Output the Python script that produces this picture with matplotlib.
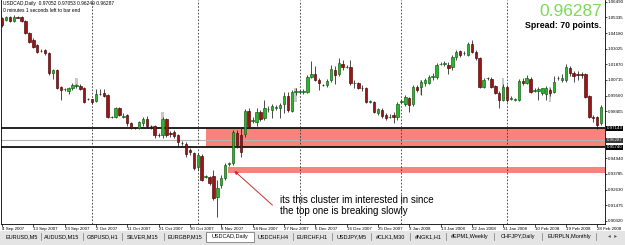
import matplotlib.pyplot as plt
from matplotlib.patches import Rectangle

# USDCAD daily bars (Sun-Fri sessions), 4 Sep 2007 .. 29 Feb 2008, bar index = position
opens = [1.0527, 1.0514, 1.0534, 1.0509, 1.0536, 1.0538, 1.0507, 1.0418, 1.0367, 1.0330,
         1.0285, 1.0293, 1.0268, 1.0123, 1.0145, 1.0018, 1.0003, 0.9993, 1.0010, 1.0027,
         1.0027, 1.0010, 0.9931, 0.9929, 0.9919, 0.9968, 0.9973, 0.9961, 0.9801, 0.9801,
         0.9863, 0.9801, 0.9813, 0.9757, 0.9718, 0.9715, 0.9752, 0.9784, 0.9732, 0.9735,
         0.9666, 0.9666, 0.9784, 0.9677, 0.9688, 0.9666, 0.9609, 0.9600, 0.9555, 0.9533,
         0.9430, 0.9511, 0.9356, 0.9356, 0.9364, 0.9209, 0.9297, 0.9349, 0.9452, 0.9459,
         0.9681, 0.9666, 0.9673, 0.9843, 0.9769, 0.9762, 0.9836, 0.9791, 0.9854, 0.9850,
         0.9865, 0.9865, 0.9895, 0.9954, 0.9843, 0.9983, 0.9983, 0.9983, 0.9983, 1.0094,
         1.0119, 1.0072, 1.0035, 1.0035, 1.0072, 1.0145, 1.0116, 1.0193, 1.0167, 1.0167,
         1.0046, 1.0046, 1.0013, 1.0009, 0.9911, 0.9909, 0.9828, 0.9850, 0.9813, 0.9799,
         0.9810, 0.9802, 0.9911, 0.9895, 0.9939, 0.9895, 1.0020, 1.0020, 1.0049, 1.0053,
         1.0094, 1.0094, 1.0190, 1.0193, 1.0182, 1.0167, 1.0241, 1.0285, 1.0267, 1.0256,
         1.0337, 1.0278, 1.0234, 1.0022, 1.0083, 1.0079, 1.0024, 0.9978, 0.9924, 1.0020,
         0.9935, 0.9924, 0.9924, 1.0064, 1.0053, 1.0079, 0.9994, 0.9987, 0.9976, 0.9968,
         0.9998, 0.9985, 1.0083, 1.0072, 1.0072, 1.0158, 1.0125, 1.0116, 1.0116, 1.0116,
         0.9954, 0.9799, 0.9799, 0.9755]
highs = [1.0538, 1.0544, 1.0544, 1.0551, 1.0544, 1.0547, 1.0514, 1.0426, 1.0381, 1.0337,
         1.0300, 1.0300, 1.0278, 1.0153, 1.0153, 1.0027, 1.0013, 1.0020, 1.0049, 1.0042,
         1.0042, 1.0020, 0.9939, 0.9931, 1.0005, 1.0005, 1.0005, 0.9968, 0.9806, 0.9872,
         0.9872, 0.9828, 0.9821, 0.9762, 0.9725, 0.9769, 0.9799, 0.9806, 0.9740, 0.9740,
         0.9681, 0.9799, 0.9791, 0.9695, 0.9703, 0.9673, 0.9622, 0.9614, 0.9570, 0.9541,
         0.9533, 0.9526, 0.9371, 0.9364, 0.9408, 0.9334, 0.9371, 0.9459, 0.9467, 0.9703,
         0.9703, 0.9718, 0.9858, 0.9865, 0.9799, 0.9865, 0.9850, 0.9924, 0.9880, 0.9895,
         0.9887, 0.9902, 0.9983, 0.9983, 0.9998, 1.0013, 0.9998, 1.0005, 1.0108, 1.0212,
         1.0175, 1.0086, 1.0042, 1.0079, 1.0182, 1.0175, 1.0234, 1.0219, 1.0182, 1.0219,
         1.0072, 1.0057, 1.0035, 1.0020, 0.9924, 0.9917, 0.9865, 0.9865, 0.9828, 0.9821,
         0.9836, 0.9909, 0.9924, 0.9961, 0.9946, 1.0035, 1.0035, 1.0072, 1.0086, 1.0108,
         1.0123, 1.0197, 1.0204, 1.0212, 1.0204, 1.0256, 1.0293, 1.0293, 1.0285, 1.0352,
         1.0367, 1.0293, 1.0241, 1.0086, 1.0094, 1.0094, 1.0035, 0.9990, 1.0042, 1.0035,
         0.9954, 0.9939, 1.0079, 1.0086, 1.0108, 1.0094, 1.0013, 1.0020, 1.0013, 1.0027,
         1.0013, 1.0101, 1.0101, 1.0116, 1.0190, 1.0175, 1.0138, 1.0138, 1.0131, 1.0123,
         0.9961, 0.9813, 0.9806, 0.9887]
lows = [1.0465, 1.0507, 1.0499, 1.0499, 1.0529, 1.0499, 1.0411, 1.0345, 1.0308, 1.0271,
        1.0278, 1.0256, 1.0108, 1.0079, 1.0005, 0.9924, 0.9990, 0.9968, 0.9998, 1.0013,
        0.9998, 0.9902, 0.9924, 0.9895, 0.9909, 0.9961, 0.9946, 0.9791, 0.9791, 0.9791,
        0.9806, 0.9791, 0.9732, 0.9710, 0.9710, 0.9710, 0.9732, 0.9718, 0.9710, 0.9644,
        0.9651, 0.9644, 0.9651, 0.9651, 0.9644, 0.9585, 0.9592, 0.9504, 0.9518, 0.9408,
        0.9408, 0.9327, 0.9349, 0.9297, 0.9187, 0.9061, 0.9275, 0.9334, 0.9437, 0.9445,
        0.9570, 0.9504, 0.9651, 0.9718, 0.9755, 0.9732, 0.9769, 0.9777, 0.9836, 0.9791,
        0.9850, 0.9791, 0.9828, 0.9836, 0.9836, 0.9961, 0.9976, 0.9968, 0.9976, 1.0086,
        1.0064, 0.9998, 1.0027, 1.0020, 1.0057, 1.0042, 1.0101, 1.0145, 1.0160, 1.0035,
        1.0013, 1.0005, 0.9990, 0.9902, 0.9902, 0.9828, 0.9813, 0.9791, 0.9777, 0.9791,
        0.9757, 0.9777, 0.9902, 0.9880, 0.9836, 0.9880, 0.9983, 0.9961, 1.0027, 1.0042,
        1.0072, 1.0079, 1.0182, 1.0175, 1.0116, 1.0145, 1.0219, 1.0241, 1.0256, 1.0249,
        1.0271, 1.0219, 1.0013, 1.0013, 1.0072, 1.0013, 0.9968, 0.9865, 0.9917, 0.9909,
        0.9924, 0.9917, 0.9917, 1.0035, 1.0042, 0.9976, 0.9983, 0.9924, 0.9961, 0.9924,
        0.9954, 0.9976, 1.0072, 1.0057, 1.0057, 1.0101, 1.0057, 1.0072, 1.0086, 0.9939,
        0.9791, 0.9762, 0.9708, 0.9740]
closes = [1.0477, 1.0536, 1.0509, 1.0538, 1.0532, 1.0507, 1.0418, 1.0354, 1.0317, 1.0280,
          1.0288, 1.0268, 1.0121, 1.0145, 1.0013, 0.9998, 1.0005, 1.0010, 1.0035, 1.0031,
          1.0003, 0.9911, 0.9928, 0.9911, 0.9968, 0.9966, 0.9956, 0.9797, 0.9799, 0.9863,
          0.9813, 0.9804, 0.9752, 0.9715, 0.9715, 0.9764, 0.9784, 0.9735, 0.9730, 0.9666,
          0.9664, 0.9784, 0.9666, 0.9675, 0.9661, 0.9616, 0.9607, 0.9526, 0.9541, 0.9423,
          0.9518, 0.9334, 0.9360, 0.9312, 0.9201, 0.9275, 0.9349, 0.9445, 0.9459, 0.9688,
          0.9592, 0.9541, 0.9843, 0.9732, 0.9777, 0.9836, 0.9784, 0.9865, 0.9858, 0.9880,
          0.9869, 0.9887, 0.9954, 0.9850, 0.9983, 0.9987, 0.9987, 0.9987, 1.0094, 1.0119,
          1.0072, 1.0046, 1.0031, 1.0064, 1.0149, 1.0108, 1.0197, 1.0164, 1.0171, 1.0046,
          1.0049, 1.0016, 1.0009, 0.9911, 0.9913, 0.9838, 0.9854, 0.9806, 0.9789, 0.9802,
          0.9795, 0.9895, 0.9913, 0.9946, 0.9887, 1.0020, 0.9998, 1.0057, 1.0072, 1.0094,
          1.0101, 1.0182, 1.0193, 1.0197, 1.0160, 1.0241, 1.0278, 1.0256, 1.0271, 1.0337,
          1.0280, 1.0234, 1.0022, 1.0072, 1.0086, 1.0022, 0.9978, 0.9924, 1.0020, 0.9924,
          0.9939, 0.9928, 1.0064, 1.0049, 1.0083, 0.9985, 0.9998, 1.0005, 1.0009, 1.0009,
          0.9973, 1.0059, 1.0086, 1.0084, 1.0165, 1.0121, 1.0101, 1.0112, 1.0112, 0.9948,
          0.9801, 0.9791, 0.9740, 0.9872]

# faint grey shadow candles visible behind a few bars
ghost_bars = [19, 41, 75, 107, 128, 140]
ghost_top = [1.0086, 0.9836, 1.0013, 1.0072, 1.0086, 1.0020]
ghost_bottom = [1.0020, 0.9784, 0.9909, 0.9961, 0.9924, 0.9909]

# time scale: one label every 8 bars
date_labels = ['4 Sep 2007', '13 Sep 2007', '23 Sep 2007', '2 Oct 2007', '11 Oct 2007',
               '21 Oct 2007', '30 Oct 2007', '8 Nov 2007', '18 Nov 2007', '27 Nov 2007',
               '6 Dec 2007', '16 Dec 2007', '25 Dec 2007', '3 Jan 2008', '13 Jan 2008',
               '22 Jan 2008', '31 Jan 2008', '10 Feb 2008', '19 Feb 2008', '28 Feb 2008']
month_start_bars = [23, 50, 76, 102, 129]   # monthly period separators

price_ticks = [1.06490, 1.05335, 1.04180, 1.03025, 1.01870, 1.00715, 0.99560, 0.98405,
               0.94940, 0.93785, 0.92630, 0.91475, 0.90320]

# drawn levels and zones
upper_level = 0.97143
lower_level = 0.95740
bid = 0.96287
zones = [(52.1, 0.95740, 0.97143), (57.7, 0.9383, 0.9433)]   # (start bar, bottom, top)

tabs = ['EURUSD,M5', 'AUDUSD,M15', 'GBPUSD,H1', 'SILVER,M15', 'EURGBP,M15', 'USDCAD,Daily',
        'USDCHF,H4', 'EURCHF,H1', 'USDJPY,M5', '#CLK1,M30', '#NGK1,H1', '#EPM1,Weekly',
        'CHFJPY,Daily', 'EURPLN,Monthly']
active_tab = 'USDCAD,Daily'

W, H = 625, 245
small = 'Liberation Sans'
fig = plt.figure(figsize=(W / 100, H / 100), dpi=100)
ax = fig.add_axes([1 / W, 1 - 224 / H, 604 / W, 224 / H])

n = len(opens)
x = list(range(n))
ax.set_xlim(-0.25, 154.0)
ax.set_ylim(0.90095, 1.06615)

# zones and levels
for start, lo, hi in zones:
    ax.add_patch(Rectangle((start, lo), 160 - start, hi - lo, facecolor='#f7837c',
                           edgecolor='none', zorder=1))
ax.axhline(bid, color='#b4b4b4', lw=0.8, zorder=2)
ax.axhline(upper_level, color='#111111', lw=1.3, zorder=2)
ax.axhline(lower_level, color='#111111', lw=1.3, zorder=2)

for b in month_start_bars:
    ax.axvline(b, color='#333333', lw=0.6, ls=(0, (2, 2)), zorder=2)

# grey shadows
ax.bar(ghost_bars, [t - b for t, b in zip(ghost_top, ghost_bottom)], bottom=ghost_bottom,
       width=0.6, color='#c8c8c8', edgecolor='none', zorder=3)

# candles
ax.vlines(x, lows, highs, color='#1a1a1a', lw=0.55, zorder=4)
bodies_low = [min(o, c) for o, c in zip(opens, closes)]
bodies_h = [abs(c - o) for o, c in zip(opens, closes)]
face = ['#2cb52c' if c > o else '#9a1515' for o, c in zip(opens, closes)]
edge = ['#0c5c0c' if c > o else '#4a0505' for o, c in zip(opens, closes)]
ax.bar(x, bodies_h, bottom=bodies_low, width=0.62, color=face, edgecolor=edge,
       linewidth=0.45, zorder=5)

# annotation
ax.annotate('', xy=(58.8, 0.9415), xytext=(69.6, 0.9135),
            arrowprops=dict(arrowstyle='-|>', color='#c43030', lw=0.7, mutation_scale=5),
            zorder=6)
ax.text(71.0, 0.9225, 'its this cluster im interested in since\nthe top one is breaking slowly',
        fontsize=7, family='Liberation Sans', va='top', ha='left', linespacing=1.15, zorder=6)

# header texts
ax.text(0.004, 0.997, 'USDCAD,Daily  0.97052 0.97053 0.96249 0.96287', transform=ax.transAxes,
        fontsize=3.5, va='top', ha='left', family=small)
ax.text(0.004, 0.965, '0 minutes 1 seconds left to bar end', transform=ax.transAxes,
        fontsize=3.5, va='top', ha='left', family=small)
fig.text(602 / W, 1 - 12 / H, '0.96287', fontsize=12.5, color='#7ed957', ha='right',
         va='center', family='Liberation Sans')
fig.text(601 / W, 1 - 25 / H, 'Spread: 70 points.', fontsize=6.3, fontweight='bold',
         ha='right', va='center', family='Liberation Sans')

# axes styling (MT4 look)
ax.spines['top'].set_visible(False)
for s in ['left', 'bottom', 'right']:
    ax.spines[s].set_linewidth(0.6)
ax.yaxis.tick_right()
ax.set_yticks(price_ticks)
ax.set_yticklabels(['%.5f' % p for p in price_ticks], family=small)
ax.set_xticks([8 * k for k in range(len(date_labels))])
ax.set_xticklabels(date_labels, family=small)
for t in ax.get_xticklabels():
    t.set_ha('left')
ax.tick_params(axis='y', labelsize=3.2, length=1.5, width=0.5, pad=0.5)
ax.tick_params(axis='x', labelsize=3.2, length=2, width=0.5, pad=0.5)

for level, fc in [(upper_level, 'black'), (bid, '#3a3a3a'), (lower_level, 'black')]:
    ax.text(1.003, level, '%.5f' % level, transform=ax.get_yaxis_transform(), fontsize=3.2,
            color='white', va='center', ha='left', family=small,
            bbox=dict(boxstyle='square,pad=0.12', fc=fc, ec='none'))

# symbol tabs strip
tab_ax = fig.add_axes([0, 0, 1, 14 / H])
tab_ax.set_xlim(0, W)
tab_ax.set_ylim(14, 0)
tab_ax.axis('off')
tab_ax.add_patch(Rectangle((0, 0), W, 14, facecolor='#e4e4e4', edgecolor='none'))
pos = 2
for name in tabs:
    w = len(name) * 3.0 + 12
    if name == active_tab:
        tab_ax.add_patch(Rectangle((pos, 0.5), w, 10, facecolor='white', edgecolor='#666666',
                                   lw=0.5))
    else:
        tab_ax.plot([pos + w, pos + w], [2, 9], color='#777777', lw=0.5)
    tab_ax.text(pos + w / 2, 5.5, name, fontsize=4, ha='center', va='center', family=small)
    pos += w
tab_ax.text(612, 5.5, '\u25c2  \u25b8', fontsize=4, ha='center', va='center', color='#555555')

fig.savefig('out.png', dpi=100)
